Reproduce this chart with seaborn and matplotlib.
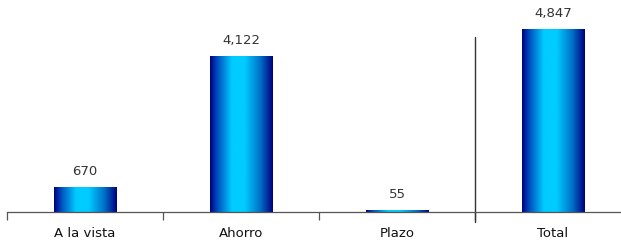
import numpy as np
import pandas as pd
import matplotlib
matplotlib.use("Agg")
import matplotlib.pyplot as plt
from matplotlib.colors import LinearSegmentedColormap
import seaborn as sns

categories = ["A la vista", "Ahorro", "Plazo", "Total"]
values = [670, 4122, 55, 4847]

df = pd.DataFrame({"categoria": categories, "valor": values})

sns.set_style("white")
plt.rcParams["font.family"] = ["DejaVu Sans"]

fig = plt.figure(figsize=(6.21, 2.41), dpi=100)
ax = fig.add_axes([7 / 621, 29 / 241, 624 / 621, 212 / 241])

sns.barplot(data=df, x="categoria", y="valor", ax=ax, width=0.4,
            color="#00CCFF", saturation=1)

# gradient fill: navy edges, cyan centre
cmap = LinearSegmentedColormap.from_list(
    "barra", [(0, "#000080"), (0.12, "#0050C0"), (0.35, "#00CCFF"),
              (0.55, "#00CCFF"), (0.8, "#0070C8"), (1, "#000080")])
grad = np.linspace(0, 1, 256).reshape(1, -1)
for p in ax.patches:
    x0, y0 = p.get_x(), p.get_y()
    w, h = p.get_width(), p.get_height()
    im = ax.imshow(grad, cmap=cmap, aspect="auto", extent=[x0, x0 + w, y0, y0 + h],
                   zorder=2, interpolation="bicubic")
    im.set_clip_path(p)
    p.set_facecolor("none")
    p.set_edgecolor("none")

for i, v in enumerate(values):
    ax.text(i, v + 240, f"{v:,}", ha="center", va="bottom", fontsize=9.5, color="#333333")

ax.set_xlim(-0.5, 3.5)
ax.set_ylim(0, 5615)

# divider before Total
ax.plot([2.5, 2.5], [-265, 4634], color="#333333", lw=1, clip_on=False)

sns.despine(ax=ax, left=True, right=True, top=True)
ax.spines["bottom"].set_color("#555555")
ax.spines["bottom"].set_linewidth(0.9)
ax.set_yticks([])
ax.set_xlabel("")
ax.set_ylabel("")
ax.set_xticks([-0.5, 0.5, 1.5, 2.5], minor=True)
ax.tick_params(axis="x", which="minor", bottom=True, length=6, width=0.9,
               color="#555555", direction="out")
ax.tick_params(axis="x", which="major", length=0, pad=11, labelsize=9.5, labelcolor="#111111")

fig.savefig("out.png", dpi=100)
